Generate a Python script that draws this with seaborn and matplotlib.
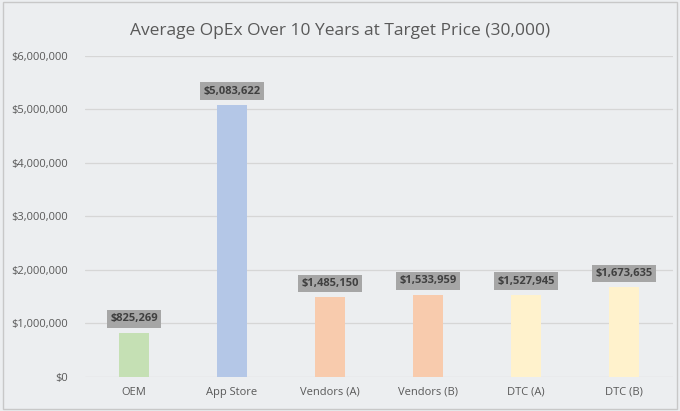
import matplotlib
matplotlib.use("Agg")
import matplotlib.pyplot as plt
import seaborn as sns
import pandas as pd
from matplotlib.ticker import FuncFormatter
from matplotlib.patches import Rectangle

categories = ["OEM", "App Store", "Vendors (A)", "Vendors (B)", "DTC (A)", "DTC (B)"]
opex = [825269, 5083622, 1485150, 1533959, 1527945, 1673635]
colors = ["#c5e0b4", "#b4c7e7", "#f8cbad", "#f8cbad", "#fff2cc", "#fff2cc"]

df = pd.DataFrame({"Category": categories, "OpEx": opex})

bg = "#eceef0"
sns.set_theme(style="white")
plt.rcParams["font.family"] = ["Open Sans", "DejaVu Sans"]

fig = plt.figure(figsize=(6.8, 4.11), dpi=100, facecolor=bg)
ax = fig.add_axes([0.125, 0.083, 0.865, 0.781])
ax.set_facecolor(bg)

sns.barplot(data=df, x="Category", y="OpEx", hue="Category", palette=colors,
            legend=False, width=0.31, ax=ax, saturation=1, linewidth=0)

ax.set_ylim(0, 6000000)
ax.set_yticks(range(0, 6000001, 1000000))
ax.yaxis.set_major_formatter(FuncFormatter(lambda v, p: f"${v:,.0f}"))
ax.grid(axis="y", color="#d6d6d6", linewidth=0.9)
ax.set_axisbelow(True)
for s in ax.spines.values():
    s.set_visible(False)
ax.tick_params(axis="both", length=0, labelsize=8, colors="#595959", pad=7)
ax.tick_params(axis="y", pad=12)
ax.set_xlabel("")
ax.set_ylabel("")

for i, v in enumerate(opex):
    ax.annotate(f"${v:,.0f}", (i, v), xytext=(0, 6), textcoords="offset points",
                ha="center", va="bottom", fontsize=8, fontweight="bold",
                color="#404040",
                bbox=dict(boxstyle="square,pad=0.3", fc="#a6a6a6", ec="none"))

fig.text(0.5, 0.925, "Average OpEx Over 10 Years at Target Price (30,000)",
         ha="center", va="center", fontsize=12.5, color="#595959")

fig.patches.append(Rectangle((0.004, 0.006), 0.992, 0.988, transform=fig.transFigure,
                             fill=False, ec="#c8c8c8", lw=1))

fig.savefig("out.png", dpi=100, facecolor=bg)
